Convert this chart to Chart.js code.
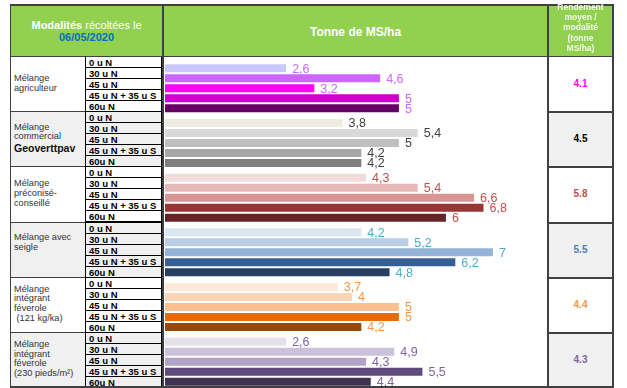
<!DOCTYPE html>
<html>
<head>
<meta charset="utf-8">
<script src="https://cdn.jsdelivr.net/npm/chart.js@4.4.1/dist/chart.umd.min.js"></script>
<style>
  body { margin: 0; width: 627px; height: 388px; background: #fff; overflow: hidden; position: relative;
         font-family: "Liberation Sans", Arial, sans-serif; }
  .abs { position: absolute; box-sizing: border-box; }
  .ligne { position: absolute; background: #404040; }
  #graph { position: absolute; left: 164px; top: 57px; }
</style>
</head>
<body>
<div id="tableau"></div>
<canvas id="graph" width="383" height="332"></canvas>
<div id="dessus"></div>
<script>
// categories
const groupes = [
  'Mélange\nagriculteur',
  'Mélange\ncommercial\n<b>Geoverttpav</b>',
  'Mélange\npréconisé-\nconseillé',
  'Mélange avec\nseigle',
  'Mélange\nintégrant\nféverole\n (121 kg/ka)',
  'Mélange\nintégrant\nféverole\n(230 pieds/m²)'
];
const modalites = ['0 u N', '30 u N', '45 u N', '45 u N + 35 u S', '60u N'];

// Tonne de MS/ha, une liste par mélange (ordre des modalités)
const agriculteur = [2.6, 4.6, 3.2, 5, 5];
const commercial = [3.8, 5.4, 5, 4.2, 4.2];
const preconise = [4.3, 5.4, 6.6, 6.8, 6];
const seigle = [4.2, 5.2, 7, 6.2, 4.8];
const feverole121 = [3.7, 4, 5, 5, 4.2];
const feverole230 = [2.6, 4.9, 4.3, 5.5, 4.4];

// rendement moyen / modalité
const rendementMoyen = ['4.1', '4.5', '5.8', '5.5', '4.4', '4.3'];

const series = [agriculteur, commercial, preconise, seigle, feverole121, feverole230];

const couleursBarres = [
  ['#c8c8ff', '#cc66ff', '#ff00ff', '#cc00cc', '#660066'],
  ['#eeece1', '#d9d9d9', '#bfbfbf', '#a6a6a6', '#7f7f7f'],
  ['#f2dcdb', '#e6b9b8', '#d99694', '#953735', '#632523'],
  ['#dce6f2', '#b9cde5', '#95b3d7', '#376092', '#254061'],
  ['#fde9d9', '#fcd5b5', '#fac090', '#e46c0a', '#984807'],
  ['#e6e0ec', '#ccc1da', '#b3a2c7', '#604a7b', '#403152']
];
const couleursEtiquettes = ['#cc66ff', '#404040', '#c0504d', '#4bacc6', '#f79646', '#8064a2'];
const couleursMoyenne = ['#ff00ff', '#000000', '#c0504d', '#4f81bd', '#f79646', '#8064a2'];

// ---- tableau autour du graphique ----
const tableau = document.getElementById('tableau');
const dessus = document.getElementById('dessus');
const ajoute = (html, cible = tableau) => cible.insertAdjacentHTML('beforeend', html);
const trait = (x, y, w, h) => ajoute(`<div class="ligne" style="left:${x}px;top:${y}px;width:${w}px;height:${h}px"></div>`, dessus);

const haut = 56, bas = 387;
const hGroupe = (bas - haut) / groupes.length;
const hLigne = hGroupe / modalites.length;

// entête vert
ajoute(`<div class="abs" style="left:10px;top:4px;width:604px;height:53px;background:#92d050"></div>`);
ajoute(`<div class="abs" style="left:10px;top:19px;width:153px;text-align:center;font-size:11px;line-height:12px;color:#fff">
  <b>Modalités</b> récoltées le<br><b style="color:#0070c0">06/05/2020</b></div>`);
ajoute(`<div class="abs" style="left:163px;top:25px;width:385px;text-align:center;font-size:12px;font-weight:bold;color:#fff">Tonne de MS/ha</div>`);

groupes.forEach((nom, g) => {
  const y = haut + g * hGroupe;
  const fond = g % 2 ? '#f0f0f0' : '#ffffff';
  const decalage = g === 3 ? -6 : 0;
  ajoute(`<div class="abs" style="left:10px;top:${y}px;width:75px;height:${hGroupe}px;background:${fond}"></div>`);
  ajoute(`<div class="abs" style="left:548px;top:${y}px;width:65px;height:${hGroupe}px;background:${fond}"></div>`);
  ajoute(`<div class="abs" style="left:14px;top:${y + decalage}px;width:72px;height:${hGroupe}px;display:flex;align-items:center">
     <div style="font-size:9.2px;line-height:9.8px;color:#333;white-space:pre">${nom.replace('<b>', '<b style="font-size:10.5px;line-height:12px;color:#111">')}</div></div>`);
  ajoute(`<div class="abs" style="left:548px;top:${y}px;width:65px;height:${hGroupe}px;display:flex;align-items:center;justify-content:center;
     font-size:10px;font-weight:bold;color:${couleursMoyenne[g]}">${rendementMoyen[g]}</div>`);
  modalites.forEach((m, r) => {
    const yy = y + r * hLigne;
    ajoute(`<div class="abs" style="left:85px;top:${yy}px;width:77px;height:${hLigne + 1}px;border:1px solid #000;background:${fond};
       font-size:9.5px;font-weight:bold;line-height:${hLigne}px;padding-left:3px;color:#000;white-space:nowrap">${m}</div>`);
  });
  if (g > 0) {
    trait(10, Math.round(y), 75, 1);
    trait(548, Math.round(y), 65, 2);
  }
});

// ---- graphique ----
const ctx = document.getElementById('graph').getContext('2d');

const etiquettes = {
  id: 'etiquettes',
  afterDatasetsDraw(chart) {
    const c = chart.ctx;
    c.save();
    c.font = '12.5px "Liberation Sans", Arial, sans-serif';
    c.textBaseline = 'middle';
    chart.data.datasets.forEach((ds, i) => {
      chart.getDatasetMeta(i).data.forEach((bar, g) => {
        c.fillStyle = couleursEtiquettes[g];
        c.fillText(String(ds.data[g]).replace('.', ','), bar.x + 5, bar.y + 1);
      });
    });
    c.restore();
  }
};

new Chart(ctx, {
  type: 'bar',
  data: {
    labels: groupes,
    datasets: modalites.map((m, i) => ({
      label: m,
      data: series.map(s => s[i]),
      backgroundColor: couleursBarres.map(c => c[i]),
      borderColor: 'rgba(255,255,255,0.5)',
      borderWidth: 1,
      barPercentage: 1,
      categoryPercentage: 0.915
    }))
  },
  options: {
    indexAxis: 'y',
    responsive: false,
    animation: false,
    layout: { padding: { left: 1, top: 4, right: 0, bottom: 0 } },
    plugins: { legend: { display: false }, tooltip: { enabled: false } },
    scales: {
      x: { display: false, min: 0, max: 8.13 },
      y: { display: false }
    }
  },
  plugins: [etiquettes]
});

// traits principaux par-dessus
trait(10, 4, 604, 2);
trait(10, 56, 604, 1);
trait(10, 386, 604, 2);
trait(10, 4, 1, 384);
trait(612, 4, 2, 384);
trait(162, 4, 2, 384);
trait(547, 4, 2, 384);
ajoute(`<div class="abs" style="left:548px;top:2px;width:65px;text-align:center;font-size:8.5px;line-height:10.2px;font-weight:bold;color:#f4fbe9">
  Rendement<br>moyen /<br>modalité<br>(tonne<br>MS/ha)</div>`, dessus);
</script>
</body>
</html>
